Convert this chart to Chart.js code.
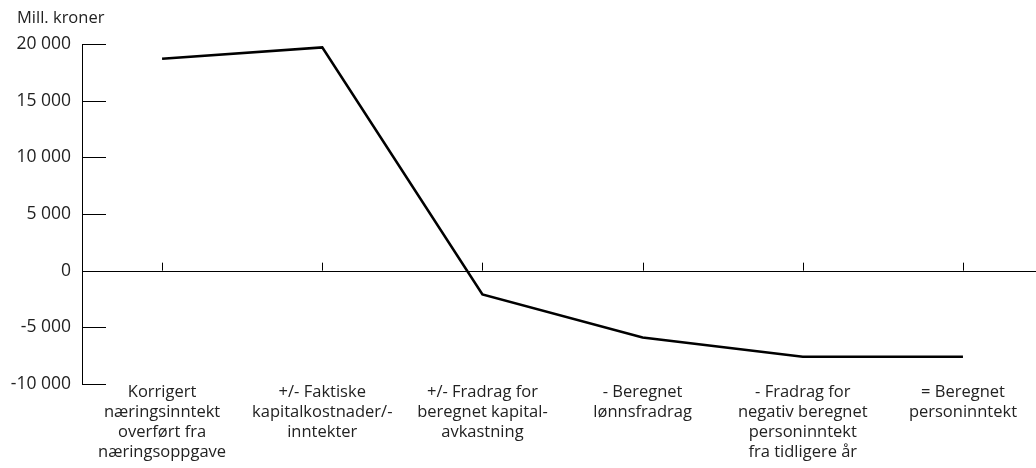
<!DOCTYPE html>
<html>
<head>
<meta charset="utf-8">
<script src="https://cdn.jsdelivr.net/npm/chart.js@4/dist/chart.umd.min.js"></script>
<style>
  html, body { margin: 0; padding: 0; background: #fff; }
  #wrap { width: 1036px; height: 468px; position: relative; }
</style>
</head>
<body>
<div id="wrap"><canvas id="chart"></canvas></div>
<script>
const categories = [
    ['Korrigert', 'næringsinntekt', 'overført fra', 'næringsoppgave'],
    ['+/- Faktiske', 'kapitalkostnader/-', 'inntekter'],
    ['+/- Fradrag for', 'beregnet kapital-', 'avkastning'],
    ['- Beregnet', 'lønnsfradrag'],
    ['- Fradrag for', 'negativ beregnet', 'personinntekt', 'fra tidligere år'],
    ['= Beregnet', 'personinntekt']
];
const values = [18700, 19700, -2100, -5900, -7600, -7600];
const yTicks = [-10000, -5000, 0, 5000, 10000, 15000, 20000];
const unitLabel = 'Mill. kroner';

const FONT = '"Open Sans", sans-serif';
const INK = '#222';

function fmt(v) {
    const s = String(Math.abs(v)).replace(/\B(?=(\d{3})+(?!\d))/g, ' ');
    return (v < 0 ? '-' : '') + s;
}

// axis decorations: zero line, inward ticks, unit label
const axisMarks = {
    id: 'axisMarks',
    afterDatasetsDraw(chart) {
        const { ctx, chartArea, scales } = chart;
        const x = scales.x, y = scales.y;
        const y0 = y.getPixelForValue(0);
        ctx.save();
        ctx.strokeStyle = '#000';
        ctx.lineWidth = 1;
        ctx.beginPath();
        ctx.moveTo(chartArea.left, Math.round(y0) + 0.5);
        ctx.lineTo(chartArea.right, Math.round(y0) + 0.5);
        categories.forEach((c, i) => {
            const px = Math.round(x.getPixelForValue(i)) + 0.5;
            ctx.moveTo(px, y0);
            ctx.lineTo(px, y0 - 8);
        });
        yTicks.forEach(v => {
            const py = Math.round(y.getPixelForValue(v)) + 0.5;
            ctx.moveTo(chartArea.left, py);
            ctx.lineTo(chartArea.left + 24, py);
        });
        ctx.stroke();
        ctx.fillStyle = INK;
        ctx.font = '16.5px ' + FONT;
        ctx.textBaseline = 'middle';
        ctx.fillText(unitLabel, 17, 18);
        ctx.restore();
    }
};

new Chart(document.getElementById('chart'), {
    type: 'line',
    data: {
        datasets: [{
            data: values.map((v, i) => ({ x: i, y: v })),
            borderColor: '#000',
            borderWidth: 2.6,
            pointRadius: 0,
            tension: 0,
            fill: false
        }]
    },
    options: {
        responsive: true,
        maintainAspectRatio: false,
        animation: false,
        layout: { padding: { top: 44, right: 0, left: 0, bottom: 0 } },
        plugins: { legend: { display: false }, tooltip: { enabled: false } },
        scales: {
            x: {
                type: 'linear',
                min: -0.5,
                max: 5.456,
                afterBuildTicks: s => { s.ticks = categories.map((c, i) => ({ value: i })); },
                afterFit: s => { s.height = 84; },
                grid: { display: false, drawTicks: false },
                border: { display: false },
                ticks: {
                    autoSkip: false,
                    maxRotation: 0,
                    padding: -2,
                    color: INK,
                    font: { family: FONT, size: 16.5, lineHeight: '20px' },
                    callback: v => categories[v]
                }
            },
            y: {
                min: -10000,
                max: 20000,
                afterBuildTicks: s => { s.ticks = yTicks.map(v => ({ value: v })); },
                afterFit: s => { s.width = 82; },
                grid: { display: false, drawTicks: false },
                border: { display: true, color: '#000', width: 1 },
                ticks: {
                    padding: 11,
                    color: INK,
                    font: { family: FONT, size: 17.5 },
                    callback: v => fmt(v)
                }
            }
        }
    },
    plugins: [axisMarks]
});
</script>
</body>
</html>
